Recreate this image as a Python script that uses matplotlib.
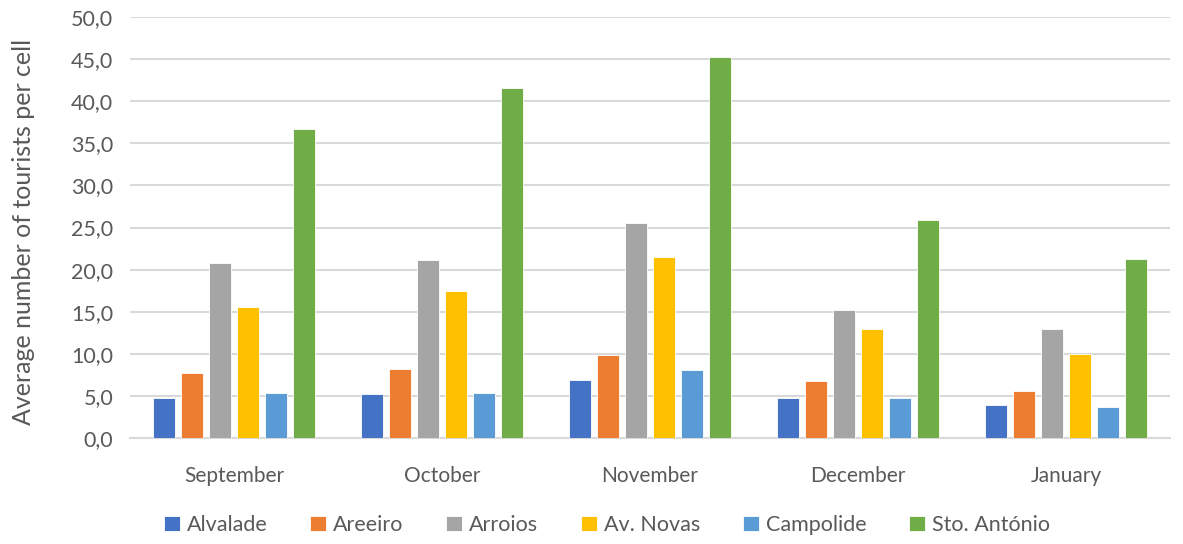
import matplotlib
matplotlib.use("Agg")
import matplotlib.pyplot as plt
import numpy as np
from matplotlib.ticker import FuncFormatter

months = ["September", "October", "November", "December", "January"]
series_names = ["Alvalade", "Areeiro", "Arroios", "Av. Novas", "Campolide", "Sto. António"]
alvalade = [4.8, 5.2, 6.9, 4.7, 3.9]
areeiro = [7.7, 8.2, 9.8, 6.8, 5.6]
arroios = [20.8, 21.1, 25.5, 15.2, 12.9]
av_novas = [15.5, 17.4, 21.5, 13.0, 10.0]
campolide = [5.3, 5.4, 8.1, 4.8, 3.7]
sto_antonio = [36.7, 41.6, 45.3, 25.9, 21.3]
colors = ["#4472C4", "#ED7D31", "#A5A5A5", "#FFC000", "#5B9BD5", "#70AD47"]

data = [alvalade, areeiro, arroios, av_novas, campolide, sto_antonio]

plt.rcParams['font.family'] = ['Lato', 'DejaVu Sans']
txt = "#595959"

fig = plt.figure(figsize=(11.83, 5.44), dpi=100)
ax = fig.add_axes([130/1183, 1 - 438/544, 1040/1183, (438 - 17)/544])

x = np.arange(len(months))
step = 0.135
width = 0.106
for i, (vals, name, c) in enumerate(zip(data, series_names, colors)):
    ax.bar(x + (i - 2.5) * step, vals, width=width, color=c, label=name,
           edgecolor="white", linewidth=0.6, zorder=3)

ax.set_xlim(-0.5, len(months) - 0.5)
ax.set_ylim(0, 50)
ax.set_yticks(np.arange(0, 51, 5))
ax.yaxis.set_major_formatter(FuncFormatter(lambda v, p: f"{v:.1f}".replace(".", ",")))
ax.grid(axis="y", color="#D9D9D9", linewidth=1.5, zorder=0)
for s in ["top", "right", "left"]:
    ax.spines[s].set_visible(False)
ax.spines["bottom"].set_color("#D9D9D9")
ax.spines["bottom"].set_linewidth(1.5)
ax.set_xticks(x)
ax.set_xticklabels(months)
ax.tick_params(axis="both", length=0, labelcolor=txt)
ax.tick_params(axis="x", pad=20, labelsize=15)
ax.tick_params(axis="y", pad=12, labelsize=15.5)
ax.set_ylabel("Average number of tourists per cell", fontsize=18, color=txt, labelpad=20)
ax.yaxis.set_label_coords(-95/1040, 0.49)

leg = fig.legend(loc="center", bbox_to_anchor=(0.513, 1 - 525/544), ncol=6, frameon=False,
                 fontsize=15.5, handlelength=0.75, handleheight=0.75, handletextpad=0.3,
                 columnspacing=2.0)
for t in leg.get_texts():
    t.set_color(txt)

fig.savefig("out.png", dpi=100)
